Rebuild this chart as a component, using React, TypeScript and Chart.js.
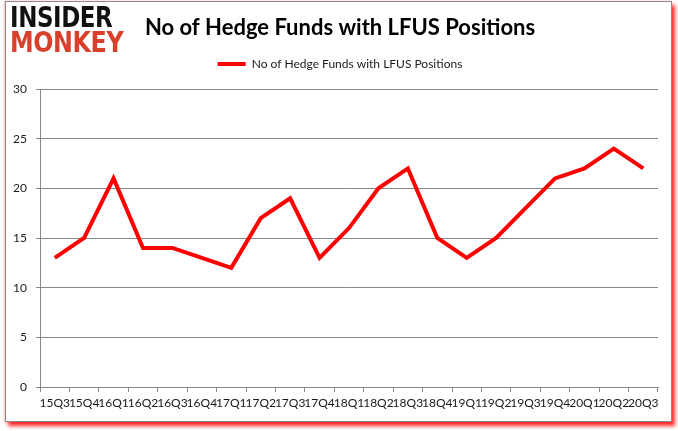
import React, { useEffect, useRef } from "react";
import { Chart, registerables } from "chart.js";

Chart.register(...registerables);

const categories = [
  "15Q3", "15Q4", "16Q1", "16Q2", "16Q3", "16Q4", "17Q1", "17Q2", "17Q3", "17Q4",
  "18Q1", "18Q2", "18Q3", "18Q4", "19Q1", "19Q2", "19Q3", "19Q4", "20Q1", "20Q2", "20Q3",
];
const hedgeFunds = [13, 15, 21, 14, 14, 13, 12, 17, 19, 13, 16, 20, 22, 15, 13, 15, 18, 21, 22, 24, 22];
const seriesName = "No of Hedge Funds with LFUS Positions";
const titleText = "No of Hedge Funds with LFUS Positions";
const yMin = 0;
const yMax = 30;
const yStep = 5;

const FONT = "Lato, 'Open Sans', 'DejaVu Sans', sans-serif";
const GRID = "#878787";
const TEXT = "#1a1a1a";

// shift the title and legend blocks so they are centred on the whole frame
const centerHeaderPlugin = {
  id: "centerHeader",
  afterLayout(chart: any) {
    if (chart.titleBlock) chart.titleBlock.left += 22;
    if (chart.legend) chart.legend.left += 22;
  },
};

export default function App() {
  const ref = useRef<HTMLCanvasElement | null>(null);

  useEffect(() => {
    if (!ref.current) return;
    const chart = new Chart(ref.current, {
      type: "line",
      data: {
        labels: categories,
        datasets: [
          {
            label: seriesName,
            data: hedgeFunds,
            borderColor: "#ff0000",
            backgroundColor: "#ff0000",
            borderWidth: 4,
            pointRadius: 0,
            pointHoverRadius: 0,
            tension: 0,
            fill: false,
          },
        ],
      },
      plugins: [centerHeaderPlugin],
      options: {
        responsive: false,
        animation: false,
        devicePixelRatio: 1,
        layout: { padding: { left: 0, right: 20, top: 0, bottom: 0 } },
        plugins: {
          title: {
            display: true,
            text: titleText,
            color: "#000",
            font: { family: FONT, size: 22, weight: "bold", lineHeight: 1.2 },
            padding: { top: 15, bottom: 6.6 },
          },
          subtitle: {
            display: true,
            text: "",
            weight: 500,
            font: { size: 1, lineHeight: 1 },
            padding: { top: 4, bottom: 4 },
          } as any,
          legend: {
            display: true,
            position: "top",
            labels: {
              color: TEXT,
              font: { family: FONT, size: 12 },
              boxWidth: 28,
              boxHeight: 4,
              padding: 10,
              generateLabels: (c: any) =>
                Chart.defaults.plugins.legend.labels
                  .generateLabels(c)
                  .map((l: any) => ({ ...l, lineWidth: 0, fillStyle: "#ff0000" })),
            },
          },
          tooltip: { enabled: false },
        },
        scales: {
          x: {
            type: "category",
            offset: true,
            grid: {
              offset: true,
              drawOnChartArea: false,
              drawTicks: true,
              tickLength: 5,
              color: GRID,
            },
            border: { color: GRID },
            ticks: {
              autoSkip: false,
              maxRotation: 0,
              minRotation: 0,
              padding: 4,
              color: TEXT,
              font: { family: FONT, size: 12 },
            },
            afterFit: (s: any) => {
              s.height = 44;
            },
          },
          y: {
            min: yMin,
            max: yMax,
            grid: { color: GRID, drawTicks: true, tickLength: 4 },
            border: { color: GRID },
            ticks: {
              stepSize: yStep,
              padding: 9,
              color: TEXT,
              font: { family: FONT, size: 12 },
            },
            afterFit: (s: any) => {
              s.width = 40;
            },
          },
        },
      },
    });
    return () => chart.destroy();
  }, []);

  return (
    <div style={{ position: "absolute", left: 0, top: 0, width: 678, height: 431, background: "#fff", overflow: "hidden" }}>
      <div
        style={{
          position: "absolute",
          left: 5,
          top: 1,
          width: 665,
          height: 419,
          border: "1px solid #8a8a8a",
          background: "#fff",
          boxShadow: "3px 4px 4px rgba(255,0,0,0.85), -1px 0 2px rgba(255,0,0,0.25)",
        }}
      />
      <canvas ref={ref} width={678} height={431} style={{ position: "absolute", left: 0, top: 0, width: 678, height: 431 }} />
      <div style={{ position: "absolute", left: 10, top: 4, lineHeight: 1, fontFamily: "'DejaVu Sans', sans-serif", fontWeight: 900 }}>
        <div style={{ fontSize: 28, color: "#111", transform: "scaleX(0.82)", transformOrigin: "left top", whiteSpace: "nowrap", letterSpacing: -0.5 }}>INSIDER</div>
        <div style={{ fontSize: 28, color: "#d9402c", transform: "scaleX(0.85)", transformOrigin: "left top", whiteSpace: "nowrap", marginTop: -3, letterSpacing: -0.5 }}>MONKEY</div>
      </div>
    </div>
  );
}
